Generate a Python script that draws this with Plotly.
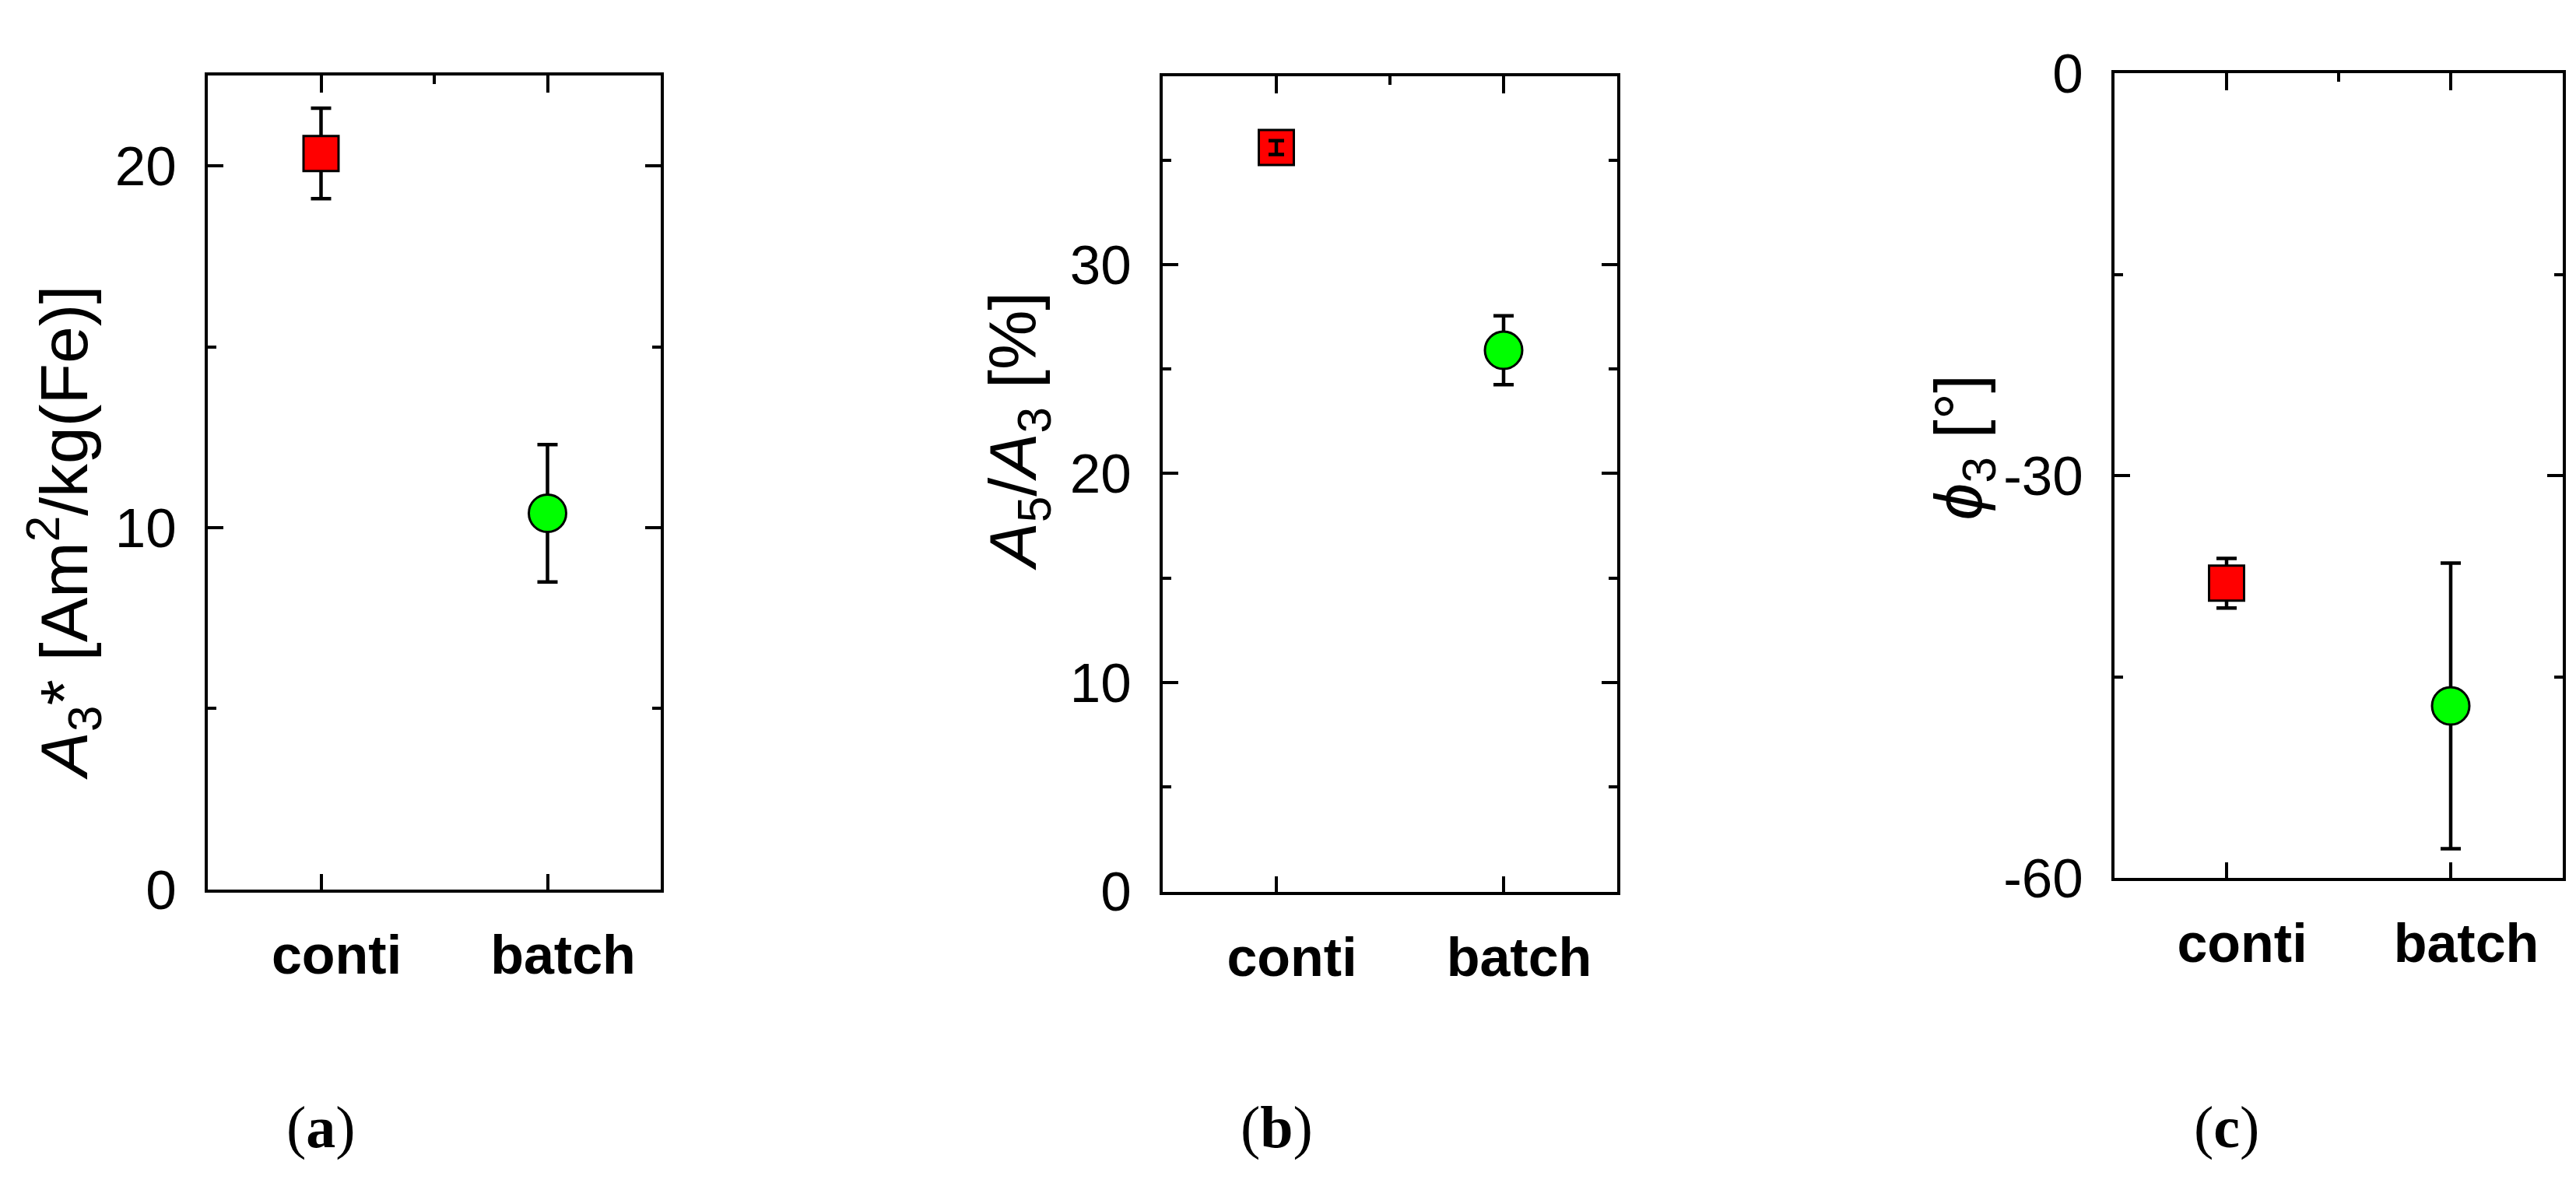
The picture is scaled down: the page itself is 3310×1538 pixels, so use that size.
import plotly.graph_objects as go

categories = ["conti", "batch"]

# panel (a): A3* [Am2/kg(Fe)]
a_vals = [20.35, 10.4]
a_err = [1.25, 1.9]
a_ticks = [0, 10, 20]
a_ticktext = ["0", "10", "20"]

# panel (b): A5/A3 [%]
b_vals = [35.6, 25.9]
b_err = [0.33, 1.65]
b_ticks = [0, 10, 20, 30]
b_ticktext = ["0", "10", "20", "30"]

# panel (c): phi3 [deg]
c_vals = [-38.0, -47.15]
c_err = [1.85, 10.65]
c_ticks = [-60, -30, 0]
c_ticktext = ["-60", "-30", "0"]

panel_labels = ["a", "b", "c"]
colors = ["#ff0000", "#00ff00"]
symbols = ["square", "circle"]
sizes = [45, 48]

W, H = 3310, 1538
SANS = "Liberation Sans, Arial, sans-serif"
LW = 4

panels = [
    dict(vals=a_vals, err=a_err, ticks=a_ticks, text=a_ticktext, rng=[0, 22.5], minor=5,
         px=(259, 841), py=(53, 1155),
         title="<i>A</i><sub>3</sub>* [Am<sup>2</sup>/kg(Fe)]", tx=74, ty=672),
    dict(vals=b_vals, err=b_err, ticks=b_ticks, text=b_ticktext, rng=[0, 39], minor=5,
         px=(1486, 2070), py=(54, 1158),
         title="<i>A</i><sub>5</sub>/<i>A</i><sub>3</sub> [%]", tx=1300, ty=535),
    dict(vals=c_vals, err=c_err, ticks=c_ticks, text=c_ticktext, rng=[-60, 0], minor=15,
         px=(2709, 3285), py=(50, 1140),
         title="<i>ϕ</i><sub>3</sub> [°]", tx=2514, ty=557),
]

xpos = list(range(len(categories)))

fig = go.Figure()
annotations = []
layout = {}

for i, p in enumerate(panels):
    n = i + 1
    xa = "x" if n == 1 else f"x{n}"
    ya = "y" if n == 1 else f"y{n}"
    xt = f"x{n + 3}"  # top axis with minor tick

    fig.add_trace(go.Scatter(
        x=xpos, y=p["vals"], xaxis=xa, yaxis=ya, mode="markers",
        marker=dict(symbol=symbols, color=colors, size=sizes, opacity=1,
                    line=dict(color="black", width=3)),
        error_y=dict(type="data", array=p["err"], color="black", thickness=4.5, width=13),
        showlegend=False, hoverinfo="skip"))

    if i == 1:
        # in (b) the small conti error bar sits on top of the square
        fig.add_trace(go.Scatter(
            x=xpos[:1], y=p["vals"][:1], xaxis=xa, yaxis=ya, mode="markers",
            marker=dict(opacity=0, size=1),
            error_y=dict(type="data", array=p["err"][:1], color="black", thickness=4.5, width=10),
            showlegend=False, hoverinfo="skip"))

    # invisible trace so the top axis is drawn
    fig.add_trace(go.Scatter(
        x=xpos, y=p["vals"], xaxis=xt, yaxis=ya, mode="markers",
        marker=dict(opacity=0), showlegend=False, hoverinfo="skip"))

    xd = [p["px"][0] / W, p["px"][1] / W]
    yd = [1 - p["py"][1] / H, 1 - p["py"][0] / H]

    layout["xaxis" if n == 1 else f"xaxis{n}"] = dict(
        domain=xd, anchor=ya, range=[-0.5, 1.5], tickvals=xpos, ticktext=categories,
        ticks="inside", ticklen=20, tickwidth=LW, tickcolor="black",
        showline=True, linewidth=LW, linecolor="black", mirror=True,
        showgrid=False, zeroline=False, ticklabelstandoff=20, ticklabelshift=20,
        tickfont=dict(family=SANS, size=70, color="black", weight="bold"))
    layout[f"xaxis{n + 3}"] = dict(
        overlaying=xa, side="top", anchor=ya, range=[-0.5, 1.5], tickvals=xpos,
        ticks="inside", ticklen=22, tickwidth=LW, tickcolor="black",
        showticklabels=False, showline=False, showgrid=False, zeroline=False,
        minor=dict(tickvals=[0.5], ticks="inside", ticklen=11, tickwidth=LW, tickcolor="black"))
    layout["yaxis" if n == 1 else f"yaxis{n}"] = dict(
        domain=yd, anchor=xa, range=p["rng"], tickvals=p["ticks"], ticktext=p["text"],
        ticks="inside", ticklen=20, tickwidth=LW, tickcolor="black",
        minor=dict(dtick=p["minor"], tick0=0, ticks="inside", ticklen=11, tickwidth=LW,
                   tickcolor="black"),
        showline=True, linewidth=LW, linecolor="black", mirror="ticks",
        showgrid=False, zeroline=False, ticklabelstandoff=22,
        tickfont=dict(family=SANS, size=71, color="black"))

    annotations.append(dict(
        text=p["title"], x=p["tx"] / W, y=1 - p["ty"] / H, xref="paper", yref="paper",
        textangle=-90, showarrow=False, xanchor="center", yanchor="middle",
        font=dict(family=SANS, size=86, color="black")))

    cx = p["px"][0] + (p["px"][1] - p["px"][0]) * 0.25
    annotations.append(dict(
        text=f"(<b>{panel_labels[i]}</b>)", x=cx / W, y=1 - 1477 / H,
        xref="paper", yref="paper", showarrow=False, xanchor="center", yanchor="middle",
        font=dict(family="Liberation Serif, Times New Roman, serif", size=76, color="black")))

fig.update_layout(
    width=W, height=H, margin=dict(l=0, r=0, t=0, b=0),
    paper_bgcolor="white", plot_bgcolor="white",
    annotations=annotations, **layout)

fig.write_html("out.html")
